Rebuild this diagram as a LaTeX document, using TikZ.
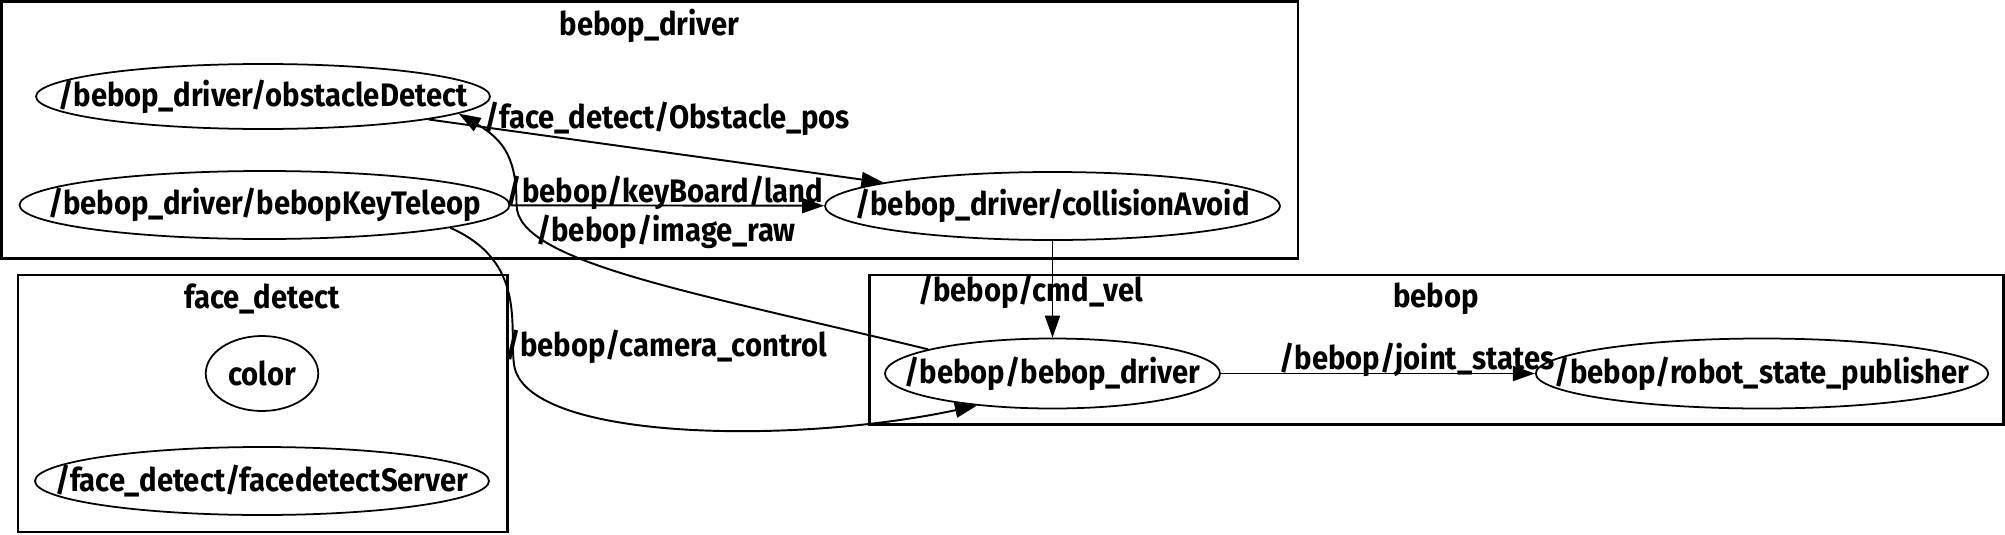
\documentclass[tikz,border=0pt]{standalone}
\usepackage{fontspec}
\newfontfamily\lblfont[FakeStretch=0.9]{Fira Sans}
\usetikzlibrary{arrows.meta,shapes.geometric}
\newcommand{\nlbl}[1]{\makebox[0pt]{#1}}

\begin{document}
\begin{tikzpicture}[font=\lblfont\bfseries\fontsize{18.5}{21}\selectfont,
  nd/.style={draw,ellipse,line width=1pt,inner sep=0pt},
  ar/.style={-{Triangle[length=4.4mm,width=3mm]},line width=1.1pt},
  cl/.style={draw,line width=1.6pt}]
  \useasboundingbox (0,0) rectangle (40.1,-10.68);
  % groups
  \draw[cl] (0.03,-0.03) rectangle (25.96,-5.17);
  \draw[cl] (0.36,-5.50) rectangle (10.15,-10.64);
  \draw[cl] (17.39,-5.50) rectangle (40.07,-8.49);
  \node (tdrv) at (12.99,-0.51) {bebop\_driver};
  \node (tface) at (5.24,-5.98) {face\_detect};
  \node (tbebop) at (28.72,-5.98) {bebop};
  % ros nodes
  \node[nd,minimum width=9.08cm,minimum height=1.3cm] (oD) at (5.26,-1.93) {\nlbl{/bebop\_driver/obstacleDetect}};
  \node[nd,minimum width=9.8cm,minimum height=1.36cm] (bKT) at (5.29,-4.1) {\nlbl{/bebop\_driver/bebopKeyTeleop}};
  \node[nd,minimum width=9.1cm,minimum height=1.36cm] (cA) at (21.05,-4.12) {\nlbl{/bebop\_driver/collisionAvoid}};
  \node[nd,minimum width=2.25cm,minimum height=1.5cm] (col) at (5.24,-7.47) {\nlbl{color}};
  \node[nd,minimum width=9.08cm,minimum height=1.36cm] (fdS) at (5.24,-9.62) {\nlbl{/face\_detect/facedetectServer}};
  \node[nd,minimum width=6.7cm,minimum height=1.4cm] (bD) at (21.05,-7.47) {\nlbl{/bebop/bebop\_driver}};
  \node[nd,minimum width=9.05cm,minimum height=1.4cm] (rsp) at (35.24,-7.47) {\nlbl{/bebop/robot\_state\_publisher}};
  % topics
  \node (lobs) at (13.35,-2.38) {/face\_detect/Obstacle\_pos};
  \node (lland) at (13.30,-3.86) {/bebop/keyBoard/land};
  \node (limg) at (13.32,-4.63) {/bebop/image\_raw};
  \node (lcam) at (13.32,-6.93) {/bebop/camera\_control};
  \node (lvel) at (20.61,-5.83) {/bebop/cmd\_vel};
  \node (ljoint) at (28.34,-7.19) {/bebop/joint\_states};
  \draw[ar] (oD) -- (cA);
  \draw[ar] (bKT) -- (cA);
  \draw[ar] (cA) -- (bD);
  \draw[ar] (bD) -- (rsp);
  \draw[ar] (bD.169) .. controls (13.81,-5.83) and (10.33,-5.24) .. (10.33,-4.09)
    .. controls (10.33,-3.20) and (10.10,-2.81) .. (oD.-5);
  \draw[ar] (bKT.-7) .. controls (10.54,-5.24) and (10.18,-6.52) .. (10.28,-7.29)
    .. controls (10.49,-8.82) and (15.86,-8.90) .. (bD.203);
\end{tikzpicture}
\end{document}
